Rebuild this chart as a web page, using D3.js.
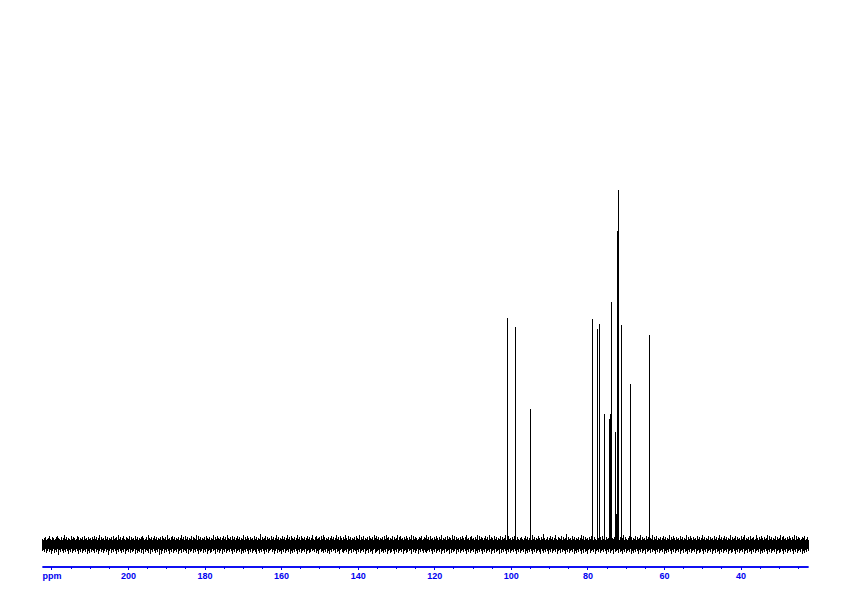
<!DOCTYPE html>
<html><head><meta charset="utf-8">
<script src="https://cdn.jsdelivr.net/npm/d3@7"></script>
<style>body{margin:0;background:#fff}svg{display:block}</style>
</head><body>
<script>
// Peak positions (ppm) and relative intensities (tallest = 100)
const peakPpm = [101.05, 98.97, 95.05, 78.88, 78.77, 77.39, 77.05, 76.87, 75.75, 74.44, 74.18, 73.92, 72.88, 72.62, 72.36, 72.10, 71.31, 68.97, 68.78, 64.01];
const peakInt = [63.9, 61.4, 38.1, 63.7, 7.5, 60.9, 62.3, 20.8, 36.9, 35.5, 36.7, 68.3, 31.8, 8.6, 88.3, 100, 61.8, 5.2, 45.4, 59.0];

// Axis ticks
const majorTicks = [220, 200, 180, 160, 140, 120, 100, 80, 60, 40];
const majorLabels = ["ppm", "200", "180", "160", "140", "120", "100", "80", "60", "40"];
const minorTicks = [215,210,205,195,190,185,175,170,165,155,150,145,135,130,125,115,110,105,95,90,85,75,70,65,55,50,45,35,30,25];

// Spectrum range (ppm)
const ppmLeft = 222.45, ppmRight = 22.4;

// Baseline noise, hand-read per-column excursions (digits 0-9): top and bottom
const noiseTop =
  "213412352143124532141362413215243125413241523142" +
  "314252413614231524132415234162413521432514231524" +
  "132453124163241352413241532416231452413241362415" +
  "241325143261524132415324132614253241352416324152" +
  "413524132614253142315241327142351423152413624132" +
  "524136241532413624153241352413621452341526413241" +
  "352413624153142631524132415326142513241532416352" +
  "413241526341325142361452314253142615243124351241" +
  "362415231425314261324152431625142314253146231452" +
  "314261524313524162431524132514236145231425314213" +
  "421352413216241325314273124135241362143251423714" +
  "231524132413625142314253142163241523142351432413" +
  "251423614213524132514236142315241326142513241352" +
  "413261425314231524132614253142315241362413251423" +
  "152413624135241326142351423152461324152341263142" +
  "531423615241325142361452314253142615243124351241";
const noiseBottom =
  "324153142631524172413524136241532413624153241635" +
  "142351426314253142731524136241352416324152431625" +
  "341526142351624135241726315241362415324163251423" +
  "516243152413624315241632541326142531624153241362" +
  "415324163524136241532461352413624153214263152436" +
  "241532416352413624153241632541324153621435241536" +
  "241325143621453241632514236241532416325143621543" +
  "261435241632541362415324163254132614253162413524" +
  "153241362415324163251432615243162415324136241532" +
  "416352413624153241632514326152413624153241362415" +
  "324163524136241532461352413624153241632514236241" +
  "532416352413625143621532416324153241362415326143" +
  "251436241532416352413624153261432514236241532416" +
  "352413624153241632514362415324163254136241532416" +
  "325143624153241632541362415324163251436241532416" +
  "352413624153241632541362415324136241532416352413";

const W = 842, H = 596;
const svg = d3.select("body").append("svg").attr("width", W).attr("height", H);

const x = d3.scaleLinear().domain([ppmLeft, ppmRight]).range([42, 808]);
const y = d3.scaleLinear().domain([0, 100]).range([544.5, 190]);
const noiseUnit = 0.26; // intensity units per noise step

const N = Math.min(noiseTop.length, noiseBottom.length);
const cols = d3.range(N).map(i => ({
  ppm: ppmLeft - (ppmLeft - ppmRight) * i / (N - 1),
  hi: (4.2 + +noiseTop[i]) * noiseUnit,
  lo: -(4.2 + +noiseBottom[i]) * noiseUnit
}));

svg.append("g").selectAll("line").data(cols).join("line")
  .attr("x1", d => Math.round(x(d.ppm)) + 0.5)
  .attr("x2", d => Math.round(x(d.ppm)) + 0.5)
  .attr("y1", d => Math.round(y(d.lo)))
  .attr("y2", d => Math.round(y(d.hi)))
  .attr("stroke", "#000").attr("stroke-width", 1)
  .attr("shape-rendering", "crispEdges");

// Peaks
svg.append("g").selectAll("line").data(peakPpm).join("line")
  .attr("x1", d => Math.round(x(d)) + 0.5)
  .attr("x2", d => Math.round(x(d)) + 0.5)
  .attr("y1", y(0) + 3)
  .attr("y2", (d, i) => y(peakInt[i]))
  .attr("stroke", "#000").attr("stroke-width", 1)
  .attr("shape-rendering", "crispEdges");

// Axis
const axisY = 566.5;
const blue = "#0000f0";
const gMinor = svg.append("g").attr("transform", `translate(0,${axisY})`)
  .call(d3.axisBottom(x).tickValues(minorTicks).tickSize(2).tickSizeOuter(0).tickFormat(""));
const gMajor = svg.append("g").attr("transform", `translate(0,${axisY})`)
  .call(d3.axisBottom(x).tickValues(majorTicks).tickSize(3).tickSizeOuter(0).tickPadding(3)
    .tickFormat((d, i) => majorLabels[i]));
[gMinor, gMajor].forEach(g => {
  g.select(".domain").attr("stroke", blue).attr("stroke-width", 1.5);
  g.selectAll(".tick line").attr("stroke", blue).attr("shape-rendering", "crispEdges");
  g.selectAll("text").attr("fill", blue)
    .attr("font-family", "Liberation Sans, Arial, sans-serif")
    .attr("font-weight", "bold")
    .attr("font-size", "9px");
});
</script>
</body></html>
